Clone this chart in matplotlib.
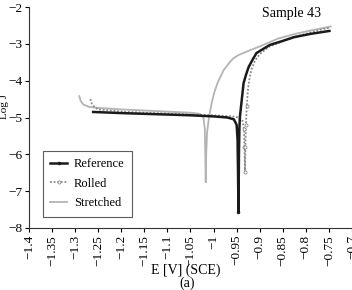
import matplotlib
matplotlib.use("Agg")
import matplotlib.pyplot as plt

plt.rcParams['font.family'] = ['Liberation Serif', 'DejaVu Serif']
plt.rcParams['font.size'] = 9

# Reference (black)
ref_E = [-1.261, -1.24, -1.2, -1.15, -1.1, -1.05, -1.0, -0.97, -0.956, -0.950, -0.948,
         -0.947, -0.946, -0.945, -0.944, -0.943, -0.939, -0.935, -0.93, -0.924, -0.915,
         -0.907, -0.89, -0.878, -0.85, -0.826, -0.79, -0.754, -0.749]
ref_J = [-4.85, -4.86, -4.88, -4.90, -4.92, -4.94, -4.97, -5.0, -5.05, -5.2, -5.6,
         -6.5, -7.57, -6.0, -5.3, -4.99, -4.53, -4.07, -3.85, -3.63, -3.42,
         -3.25, -3.12, -3.03, -2.92, -2.82, -2.73, -2.66, -2.65]

# Rolled (dotted, circles)
rol_E = [-1.267, -1.264, -1.258, -1.25, -1.2, -1.15, -1.1, -1.05, -1.0, -0.96, -0.945,
         -0.938, -0.934, -0.933, -0.932, -0.931, -0.930, -0.928, -0.926, -0.923, -0.918,
         -0.91, -0.90, -0.88, -0.85, -0.82, -0.79, -0.76, -0.749]
rol_J = [-4.50, -4.62, -4.72, -4.78, -4.84, -4.87, -4.89, -4.92, -4.94, -4.97, -5.0,
         -5.05, -5.3, -5.8, -6.48, -5.8, -5.2, -4.7, -4.3, -4.0, -3.7,
         -3.45, -3.28, -3.08, -2.93, -2.80, -2.69, -2.59, -2.56]

# Stretched (light grey)
str_E = [-1.291, -1.288, -1.282, -1.27, -1.25, -1.2, -1.15, -1.1, -1.05, -1.03, -1.022,
         -1.019, -1.018, -1.017, -1.016, -1.014, -1.01, -1.004, -0.998, -0.991, -0.978,
         -0.965, -0.957, -0.945, -0.926, -0.898, -0.861, -0.82, -0.791, -0.746]
str_J = [-4.42, -4.55, -4.65, -4.71, -4.74, -4.78, -4.81, -4.84, -4.87, -4.90, -5.0,
         -5.3, -6.0, -6.76, -6.0, -5.4, -5.0, -4.6, -4.3, -4.05, -3.71,
         -3.5, -3.39, -3.3, -3.2, -3.06, -2.86, -2.72, -2.64, -2.53]

xticks = [-1.4, -1.35, -1.3, -1.25, -1.2, -1.15, -1.1, -1.05, -1.0, -0.95, -0.9, -0.85, -0.8, -0.75, -0.7]
xticklabels = ["\u22121.4", "\u22121.35", "\u22121.3", "\u22121.25", "\u22121.2", "\u22121.15", "\u22121.1",
               "\u22121.05", "\u22121", "\u22120.95", "\u22120.9", "\u22120.85", "\u22120.8", "\u22120.75", "\u22120.7"]
yticks = [-8, -7, -6, -5, -4, -3, -2]
yticklabels = ["\u22128", "\u22127", "\u22126", "\u22125", "\u22124", "\u22123", "\u22122"]

fig = plt.figure(figsize=(3.52, 2.90), dpi=100)
ax = fig.add_axes([29/352, 62/290, 323/352, 221/290])

ax.plot(str_E, str_J, color='#b4b4b4', lw=1.3, label='Stretched', zorder=2)
ax.plot(rol_E, rol_J, color='#8a8a8a', lw=1.3, ls=(0, (1, 1)), marker='o', ms=2.2,
        mfc='white', mec='#8a8a8a', mew=0.6, markevery=[12, 13, 14, 15, 16, 17],
        label='Rolled', zorder=3)
ax.plot(ref_E, ref_J, color='#1a1a1a', lw=1.8, marker='.', ms=3,
        markevery=[12], label='Reference', zorder=4)

ax.set_xlim(-1.4, -0.7)
ax.set_ylim(-8, -2)
ax.set_xticks(xticks)
ax.set_xticklabels(xticklabels, rotation=90)
ax.set_yticks(yticks)
ax.set_yticklabels(yticklabels)
ax.tick_params(direction='out', length=3, width=0.8, pad=2, labelsize=9.5)
ax.tick_params(axis='y', pad=1.5)
for s in ['top', 'right']:
    ax.spines[s].set_visible(False)
for s in ['left', 'bottom']:
    ax.spines[s].set_linewidth(0.8)
    ax.spines[s].set_color('#333333')

ax.set_xlabel('E [V] (SCE)', fontsize=10)
ax.xaxis.set_label_coords(0.485, -0.16)
ax.set_ylabel('Log J', fontsize=8)
ax.yaxis.set_label_coords(-0.062, 0.55)
fig.text(187/352, 1 - 283/290, '(a)', ha='center', va='center', fontsize=10)

fig.text(291/352, 1 - 14/290, 'Sample 43', ha='center', va='center', fontsize=10)

handles, labels = ax.get_legend_handles_labels()
order = [2, 1, 0]
leg = ax.legend([handles[i] for i in order], [labels[i] for i in order],
                loc='upper left', bbox_to_anchor=(0.043, 0.35), borderaxespad=0,
                frameon=True, fancybox=False, edgecolor='#333333', fontsize=9,
                handlelength=1.3, handletextpad=0.6, borderpad=0.6, labelspacing=0.6)
leg.get_frame().set_linewidth(0.8)

fig.savefig('out.png', dpi=100)
